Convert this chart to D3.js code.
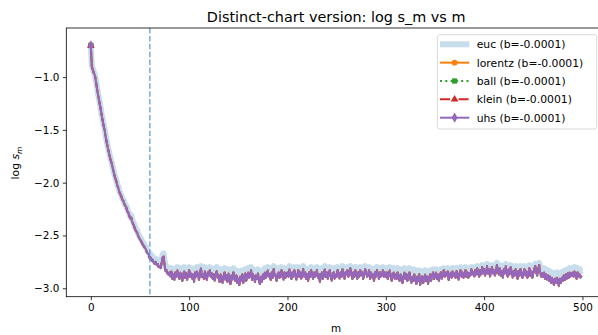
<!DOCTYPE html>
<html><head><meta charset="utf-8">
<script src="https://cdn.jsdelivr.net/npm/d3@7"></script>
<style>body{margin:0;background:#fff}text{font-family:"DejaVu Sans",sans-serif;fill:#000}</style>
</head><body><svg id="c" width="598" height="335"></svg>
<script>
// hyperbolic models (lorentz, ball, klein, uhs) overlap almost exactly
const hypVals=[
-0.70,-0.90,-0.93,-0.96,-0.98,-1.03,-1.09,-1.15,-1.20,-1.25,
-1.30,-1.36,-1.41,-1.46,-1.50,-1.56,-1.61,-1.66,-1.70,-1.74,
-1.78,-1.81,-1.85,-1.89,-1.93,-1.96,-1.99,-2.03,-2.05,-2.09,
-2.11,-2.13,-2.16,-2.17,-2.20,-2.22,-2.23,-2.27,-2.28,-2.31,
-2.34,-2.33,-2.37,-2.39,-2.41,-2.44,-2.46,-2.47,-2.50,-2.52,
-2.54,-2.55,-2.57,-2.59,-2.60,-2.62,-2.63,-2.66,-2.67,-2.68,
-2.72,-2.71,-2.74,-2.73,-2.76,-2.77,-2.75,-2.78,-2.77,-2.80,
-2.79,-2.81,-2.76,-2.71,-2.70,-2.78,-2.84,-2.83,-2.86,-2.87,
-2.85,-2.89,-2.84,-2.91,-2.87,-2.92,-2.85,-2.89,-2.83,-2.88,
-2.91,-2.85,-2.89,-2.93,-2.86,-2.84,-2.90,-2.86,-2.92,-2.87,
-2.83,-2.89,-2.86,-2.91,-2.87,-2.94,-2.85,-2.89,-2.84,-2.88,
-2.92,-2.86,-2.81,-2.89,-2.87,-2.91,-2.84,-2.89,-2.92,-2.85,
-2.88,-2.83,-2.89,-2.86,-2.91,-2.87,-2.93,-2.88,-2.84,-2.88,
-2.91,-2.94,-2.87,-2.89,-2.95,-2.90,-2.85,-2.92,-2.88,-2.94,
-2.86,-2.90,-2.96,-2.88,-2.92,-2.85,-2.90,-2.93,-2.88,-2.95,
-2.91,-2.97,-2.89,-2.93,-2.87,-2.95,-2.90,-2.86,-2.93,-2.89,
-2.85,-2.90,-2.88,-2.83,-2.92,-2.87,-2.90,-2.94,-2.88,-2.91,
-2.86,-2.93,-2.96,-2.89,-2.94,-2.87,-2.91,-2.85,-2.90,-2.88,
-2.83,-2.89,-2.87,-2.92,-2.85,-2.90,-2.82,-2.88,-2.87,-2.93,
-2.88,-2.85,-2.90,-2.87,-2.83,-2.89,-2.92,-2.85,-2.90,-2.87,
-2.85,-2.89,-2.82,-2.87,-2.91,-2.85,-2.89,-2.83,-2.87,-2.92,
-2.87,-2.83,-2.89,-2.85,-2.91,-2.87,-2.82,-2.89,-2.85,-2.91,
-2.87,-2.93,-2.85,-2.89,-2.83,-2.87,-2.91,-2.85,-2.89,-2.87,
-2.83,-2.90,-2.87,-2.94,-2.88,-2.85,-2.91,-2.87,-2.82,-2.89,
-2.85,-2.91,-2.87,-2.83,-2.89,-2.93,-2.87,-2.85,-2.91,-2.87,
-2.89,-2.83,-2.87,-2.91,-2.85,-2.89,-2.82,-2.87,-2.91,-2.85,
-2.87,-2.83,-2.89,-2.85,-2.81,-2.87,-2.91,-2.85,-2.89,-2.83,
-2.87,-2.91,-2.85,-2.89,-2.83,-2.87,-2.85,-2.91,-2.87,-2.82,
-2.85,-2.89,-2.87,-2.83,-2.91,-2.85,-2.89,-2.87,-2.93,-2.85,
-2.89,-2.83,-2.87,-2.91,-2.85,-2.89,-2.87,-2.83,-2.89,-2.85,
-2.89,-2.85,-2.91,-2.87,-2.83,-2.89,-2.93,-2.87,-2.85,-2.91,
-2.87,-2.91,-2.85,-2.89,-2.93,-2.87,-2.91,-2.95,-2.89,-2.85,
-2.91,-2.87,-2.93,-2.89,-2.85,-2.91,-2.95,-2.89,-2.93,-2.87,
-2.92,-2.96,-2.89,-2.93,-2.87,-2.97,-2.91,-2.89,-2.95,-2.91,
-2.87,-2.93,-2.89,-2.96,-2.91,-2.87,-2.93,-2.89,-2.85,-2.91,
-2.89,-2.85,-2.91,-2.87,-2.93,-2.89,-2.85,-2.91,-2.87,-2.83,
-2.89,-2.85,-2.88,-2.84,-2.92,-2.88,-2.85,-2.90,-2.84,-2.88,
-2.86,-2.90,-2.84,-2.88,-2.92,-2.86,-2.83,-2.89,-2.85,-2.90,
-2.86,-2.83,-2.89,-2.85,-2.90,-2.86,-2.88,-2.82,-2.87,-2.85,
-2.89,-2.83,-2.87,-2.81,-2.86,-2.89,-2.83,-2.87,-2.80,-2.86,
-2.82,-2.88,-2.84,-2.79,-2.86,-2.82,-2.89,-2.84,-2.80,-2.86,
-2.83,-2.88,-2.84,-2.78,-2.83,-2.87,-2.81,-2.88,-2.84,-2.90,
-2.82,-2.86,-2.79,-2.85,-2.89,-2.82,-2.87,-2.80,-2.85,-2.90,
-2.84,-2.88,-2.82,-2.86,-2.91,-2.84,-2.88,-2.82,-2.86,-2.90,
-2.86,-2.82,-2.88,-2.84,-2.90,-2.86,-2.81,-2.88,-2.84,-2.90,
-2.86,-2.82,-2.79,-2.85,-2.88,-2.82,-2.78,-2.85,-2.89,-2.86,
-2.89,-2.85,-2.91,-2.87,-2.92,-2.88,-2.93,-2.89,-2.95,-2.90,
-2.93,-2.97,-2.91,-2.95,-2.90,-2.93,-2.98,-2.91,-2.95,-2.90,
-2.93,-2.88,-2.92,-2.87,-2.91,-2.86,-2.90,-2.85,-2.89,-2.87,
-2.85,-2.89,-2.84,-2.88,-2.91,-2.85,-2.89,-2.87,-2.90,-2.88];
const eucVals=[
-0.70,-0.89,-0.92,-0.95,-0.98,-1.02,-1.08,-1.14,-1.19,-1.24,
-1.29,-1.35,-1.40,-1.45,-1.49,-1.55,-1.60,-1.65,-1.69,-1.73,
-1.77,-1.80,-1.84,-1.88,-1.92,-1.95,-1.98,-2.02,-2.04,-2.08,
-2.10,-2.12,-2.15,-2.16,-2.19,-2.21,-2.22,-2.25,-2.27,-2.29,
-2.32,-2.31,-2.35,-2.37,-2.39,-2.42,-2.44,-2.45,-2.48,-2.50,
-2.52,-2.53,-2.55,-2.57,-2.58,-2.60,-2.61,-2.63,-2.65,-2.66,
-2.69,-2.68,-2.71,-2.70,-2.73,-2.74,-2.72,-2.75,-2.74,-2.77,
-2.76,-2.78,-2.73,-2.68,-2.67,-2.74,-2.80,-2.79,-2.82,-2.83,
-2.82,-2.83,-2.81,-2.84,-2.82,-2.85,-2.81,-2.83,-2.80,-2.82,
-2.84,-2.81,-2.83,-2.85,-2.82,-2.80,-2.83,-2.81,-2.84,-2.82,
-2.80,-2.83,-2.81,-2.84,-2.82,-2.85,-2.81,-2.83,-2.80,-2.82,
-2.84,-2.81,-2.79,-2.83,-2.82,-2.84,-2.80,-2.83,-2.85,-2.81,
-2.82,-2.80,-2.83,-2.81,-2.84,-2.82,-2.85,-2.83,-2.80,-2.82,
-2.84,-2.86,-2.82,-2.83,-2.86,-2.84,-2.81,-2.85,-2.83,-2.86,
-2.82,-2.84,-2.87,-2.83,-2.85,-2.81,-2.84,-2.86,-2.83,-2.87,
-2.85,-2.88,-2.84,-2.86,-2.83,-2.87,-2.85,-2.82,-2.86,-2.84,
-2.81,-2.84,-2.83,-2.80,-2.85,-2.82,-2.84,-2.86,-2.83,-2.85,
-2.82,-2.86,-2.87,-2.84,-2.86,-2.83,-2.85,-2.81,-2.84,-2.83,
-2.80,-2.83,-2.82,-2.85,-2.81,-2.84,-2.79,-2.83,-2.82,-2.86,
-2.83,-2.81,-2.84,-2.82,-2.80,-2.83,-2.85,-2.81,-2.84,-2.82,
-2.81,-2.83,-2.79,-2.82,-2.84,-2.81,-2.83,-2.80,-2.82,-2.85,
-2.82,-2.80,-2.83,-2.81,-2.84,-2.82,-2.79,-2.83,-2.81,-2.84,
-2.82,-2.85,-2.81,-2.83,-2.80,-2.82,-2.84,-2.81,-2.83,-2.82,
-2.80,-2.84,-2.82,-2.86,-2.83,-2.81,-2.84,-2.82,-2.79,-2.83,
-2.81,-2.84,-2.82,-2.80,-2.83,-2.85,-2.82,-2.81,-2.84,-2.82,
-2.83,-2.80,-2.82,-2.84,-2.81,-2.83,-2.79,-2.82,-2.84,-2.81,
-2.82,-2.80,-2.83,-2.81,-2.79,-2.82,-2.84,-2.81,-2.83,-2.80,
-2.82,-2.84,-2.81,-2.83,-2.80,-2.82,-2.81,-2.84,-2.82,-2.79,
-2.81,-2.83,-2.82,-2.80,-2.84,-2.81,-2.83,-2.82,-2.85,-2.81,
-2.83,-2.80,-2.82,-2.84,-2.81,-2.83,-2.82,-2.80,-2.83,-2.81,
-2.83,-2.81,-2.84,-2.82,-2.80,-2.83,-2.85,-2.82,-2.81,-2.84,
-2.82,-2.84,-2.81,-2.83,-2.85,-2.82,-2.84,-2.86,-2.83,-2.81,
-2.84,-2.82,-2.85,-2.83,-2.81,-2.84,-2.86,-2.83,-2.85,-2.82,
-2.85,-2.87,-2.84,-2.86,-2.83,-2.88,-2.85,-2.84,-2.87,-2.85,
-2.83,-2.86,-2.84,-2.88,-2.85,-2.83,-2.86,-2.84,-2.82,-2.85,
-2.84,-2.82,-2.85,-2.83,-2.86,-2.84,-2.82,-2.85,-2.83,-2.81,
-2.84,-2.82,-2.83,-2.81,-2.85,-2.83,-2.82,-2.84,-2.81,-2.83,
-2.82,-2.84,-2.81,-2.83,-2.85,-2.82,-2.80,-2.83,-2.81,-2.84,
-2.82,-2.80,-2.83,-2.81,-2.84,-2.82,-2.83,-2.80,-2.82,-2.81,
-2.83,-2.80,-2.82,-2.79,-2.81,-2.83,-2.80,-2.82,-2.78,-2.81,
-2.79,-2.82,-2.80,-2.77,-2.81,-2.79,-2.83,-2.80,-2.78,-2.81,
-2.79,-2.82,-2.80,-2.76,-2.79,-2.81,-2.78,-2.82,-2.80,-2.83,
-2.79,-2.81,-2.77,-2.80,-2.82,-2.79,-2.81,-2.78,-2.80,-2.83,
-2.80,-2.82,-2.79,-2.81,-2.84,-2.80,-2.82,-2.79,-2.81,-2.83,
-2.81,-2.79,-2.82,-2.80,-2.83,-2.81,-2.78,-2.82,-2.80,-2.83,
-2.81,-2.79,-2.77,-2.80,-2.82,-2.79,-2.76,-2.80,-2.82,-2.81,
-2.83,-2.81,-2.84,-2.82,-2.85,-2.83,-2.86,-2.84,-2.87,-2.85,
-2.87,-2.89,-2.86,-2.88,-2.85,-2.87,-2.90,-2.86,-2.88,-2.85,
-2.87,-2.84,-2.86,-2.83,-2.85,-2.82,-2.84,-2.81,-2.83,-2.82,
-2.81,-2.83,-2.80,-2.82,-2.84,-2.81,-2.83,-2.82,-2.84,-2.83];
const seriesNames=["euc","lorentz","ball","klein","uhs"];
const slopeLabels=["-0.0001","-0.0001","-0.0001","-0.0001","-0.0001"];
const xTicks=[0,100,200,300,400,500];
const yTicks=[-3.0,-2.5,-2.0,-1.5,-1.0];
const vlineM=60;
const titleText="Distinct-chart version: log s_m vs m";

const svg=d3.select("#c");
const L=66.3,R=606,T=28,B=296.7;
const x=d3.scaleLinear().domain([-24.95,523.95]).range([L,R]);
const y=d3.scaleLinear().domain([-3.08,-0.535]).range([B,T]);

svg.append("defs").append("clipPath").attr("id","clip").append("rect")
  .attr("x",L).attr("y",T).attr("width",R-L).attr("height",B-T);

const styles={
  euc:{color:"#1f77b4",op:0.25,w:6,dash:null,marker:null},
  lorentz:{color:"#ff7f0e",op:1,w:2,dash:null,marker:"circle"},
  ball:{color:"#2ca02c",op:1,w:2,dash:"2,3.3",marker:"square"},
  klein:{color:"#d62728",op:1,w:2,dash:"10,3.3,2,3.3",marker:"triangle"},
  uhs:{color:"#9467bd",op:1,w:2,dash:null,marker:"diamond"}
};
const dataFor={euc:eucVals,lorentz:hypVals,ball:hypVals,klein:hypVals,uhs:hypVals};
const symMap={circle:[d3.symbolCircle,26],square:[d3.symbolSquare,28],triangle:[d3.symbolTriangle,26],diamond:[d3.symbolDiamond,30]};

const g=svg.append("g").attr("clip-path","url(#clip)");
const line=d3.line().x((d,i)=>x(i)).y(d=>y(d));
seriesNames.forEach(n=>{
  const s=styles[n];
  g.append("path").datum(dataFor[n]).attr("d",line).attr("fill","none")
   .attr("stroke",s.color).attr("stroke-opacity",s.op).attr("stroke-width",s.w)
   .attr("stroke-linejoin","round").attr("stroke-dasharray",s.dash);
  if(s.marker){
    const sm=symMap[s.marker];
    g.append("path").attr("d",d3.symbol(sm[0],sm[1])())
     .attr("transform",`translate(${x(0)},${y(dataFor[n][0])})`).attr("fill",s.color);
  }
});
// vertical dashed line
svg.append("line").attr("x1",x(vlineM)).attr("x2",x(vlineM)).attr("y1",T).attr("y2",B)
  .attr("stroke","#4f9ad6").attr("stroke-opacity",0.8).attr("stroke-width",1.5).attr("stroke-dasharray","5.5,2.4");

// axes
const fmt=d=>d3.format(".1f")(d).replace("-","\u2212");
const xa=svg.append("g").attr("transform",`translate(0,${B})`).call(d3.axisBottom(x).tickValues(xTicks).tickSize(3.5).tickPadding(3.5));
const ya=svg.append("g").attr("transform",`translate(${L},0)`).call(d3.axisLeft(y).tickValues(yTicks).tickFormat(fmt).tickSize(3.5).tickPadding(3.5));
[xa,ya].forEach(a=>{a.selectAll("text").attr("font-size","10.4px").attr("font-family","DejaVu Sans").attr("fill","#000");
  a.selectAll("line").attr("stroke","#000").attr("stroke-width",0.8);a.select(".domain").remove();});
// spines
svg.append("rect").attr("x",L).attr("y",T).attr("width",R-L).attr("height",B-T)
  .attr("fill","none").attr("stroke","#000").attr("stroke-width",0.8);

// title and labels
svg.append("text").attr("x",(L+R)/2).attr("y",22).attr("text-anchor","middle").attr("font-size","14.4px").text(titleText);
svg.append("text").attr("x",(L+R)/2).attr("y",332).attr("text-anchor","middle").attr("font-size","10.4px").text("m");
const yl=svg.append("text").attr("transform","translate(19,163) rotate(-90)").attr("text-anchor","middle").attr("font-size","10.8px");
yl.append("tspan").text("log ");
yl.append("tspan").attr("font-style","italic").text("s");
yl.append("tspan").attr("font-style","italic").attr("font-size","7.6px").attr("dy","2.5").text("m");

// legend
const lg=svg.append("g");
lg.append("rect").attr("x",437.3).attr("y",34.7).attr("width",159.4).attr("height",94.3).attr("rx",2.5)
  .attr("fill","#fff").attr("fill-opacity",0.8).attr("stroke","#d0d0d0").attr("stroke-width",0.8);
seriesNames.forEach((n,i)=>{
  const s=styles[n];const cy=44.3+i*18.35;
  lg.append("line").attr("x1",440).attr("x2",469.3).attr("y1",cy).attr("y2",cy)
    .attr("stroke",s.color).attr("stroke-opacity",s.op).attr("stroke-width",s.w).attr("stroke-dasharray",s.dash);
  if(s.marker){const sm=symMap[s.marker];
    lg.append("path").attr("d",d3.symbol(sm[0],sm[1])()).attr("transform",`translate(454.6,${cy})`).attr("fill",s.color);}
  lg.append("text").attr("x",476.7).attr("y",cy+3.9).attr("font-size","10.8px").text(`${n} (b=${slopeLabels[i]})`);
});
</script></body></html>
